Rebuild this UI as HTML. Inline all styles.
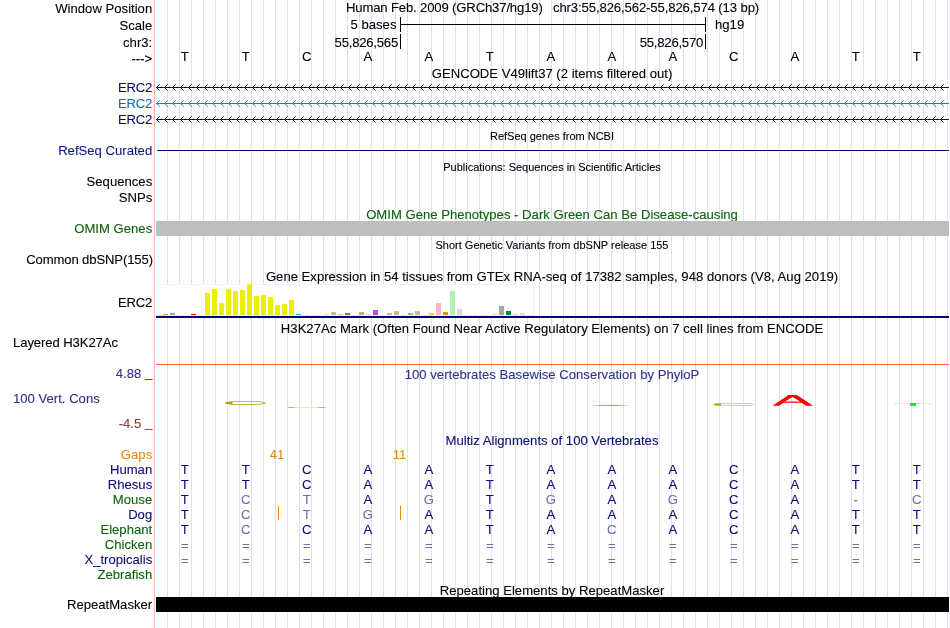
<!DOCTYPE html><html><head><meta charset="utf-8"><style>
html,body{margin:0;padding:0;background:#fff;overflow:hidden}
svg{display:block;will-change:transform}
text{font-family:'Liberation Sans',sans-serif;font-size:13.13px;fill:#000;stroke:#000;stroke-width:0.1px}
.s{font-size:11px}
.r{text-anchor:end}
.c{text-anchor:middle}
</style></head><body>
<svg width="950" height="628" viewBox="0 0 950 628">
<defs>
<pattern id="guides" x="167" y="0" width="12" height="628" patternUnits="userSpaceOnUse"><rect x="0" y="0" width="1" height="628" fill="#ddddff"/></pattern>
</defs>
<rect width="950" height="628" fill="#fff"/>
<rect x="167" y="0" width="783" height="628" fill="url(#guides)" shape-rendering="crispEdges"/>
<rect x="154" y="0" width="1" height="628" fill="#ffb3b3" shape-rendering="crispEdges"/>

<text class="r" style="fill:#000;stroke:#000" transform="matrix(1 0 0 1.03 152.2 13)">Window Position</text>
<text class="r" style="fill:#000;stroke:#000" transform="matrix(1 0 0 1.03 152.2 30)">Scale</text>
<text class="r" style="fill:#000;stroke:#000" transform="matrix(1 0 0 1.03 152.2 47)">chr3:</text>
<text class="r" style="fill:#000;stroke:#000" transform="matrix(1 0 0 1.03 152.2 63)">---&gt;</text>
<text class="r" textLength="34.2" lengthAdjust="spacing" style="fill:#0c0c78;stroke:#0c0c78" transform="matrix(1 0 0 1.03 152.2 92)">ERC2</text>
<text class="r" textLength="34.2" lengthAdjust="spacing" style="fill:#1470b8;stroke:#1470b8" transform="matrix(1 0 0 1.03 152.2 108)">ERC2</text>
<text class="r" textLength="34.2" lengthAdjust="spacing" style="fill:#0c0c78;stroke:#0c0c78" transform="matrix(1 0 0 1.03 152.2 124)">ERC2</text>
<text class="r" style="fill:#14148c;stroke:#14148c" transform="matrix(1 0 0 1.03 152.2 155)">RefSeq Curated</text>
<text class="r" style="fill:#000;stroke:#000" transform="matrix(1 0 0 1.03 152.2 186)">Sequences</text>
<text class="r" style="fill:#000;stroke:#000" transform="matrix(1 0 0 1.03 152.2 201.5)">SNPs</text>
<text class="r" style="fill:#0a640a;stroke:#0a640a" transform="matrix(1 0 0 1.03 152.2 233)">OMIM Genes</text>
<text class="r" textLength="126.8" lengthAdjust="spacing" style="fill:#000;stroke:#000" transform="matrix(1 0 0 1.03 153 264)">Common dbSNP(155)</text>
<text class="r" textLength="34.2" lengthAdjust="spacing" style="fill:#000;stroke:#000" transform="matrix(1 0 0 1.03 152.2 307)">ERC2</text>
<text class="" textLength="105" lengthAdjust="spacing" style="fill:#000;stroke:#000" transform="matrix(1 0 0 1.03 13 347)">Layered H3K27Ac</text>
<text class="r" style="fill:#32328c;stroke:#32328c" transform="matrix(1 0 0 1.03 152.2 378)">4.88 <tspan dy="-1">_</tspan></text>
<text class="" style="fill:#32328c;stroke:#32328c" transform="matrix(1 0 0 1.03 13 403)">100 Vert. Cons</text>
<text class="r" style="fill:#8c3c3c;stroke:#8c3c3c" transform="matrix(1 0 0 1.03 152.2 428)">-4.5 <tspan dy="-1">_</tspan></text>
<text class="r" style="fill:#e68a14;stroke:#e68a14" transform="matrix(1 0 0 1.03 152.2 459)">Gaps</text>
<text class="r" style="fill:#0c0c78;stroke:#0c0c78" transform="matrix(1 0 0 1.03 152.2 474)">Human</text>
<text class="r" style="fill:#0c0c78;stroke:#0c0c78" transform="matrix(1 0 0 1.03 152.2 489)">Rhesus</text>
<text class="r" style="fill:#0a640a;stroke:#0a640a" transform="matrix(1 0 0 1.03 152.2 504)">Mouse</text>
<text class="r" style="fill:#0c0c78;stroke:#0c0c78" transform="matrix(1 0 0 1.03 152.2 519)">Dog</text>
<text class="r" style="fill:#0a640a;stroke:#0a640a" transform="matrix(1 0 0 1.03 152.2 534)">Elephant</text>
<text class="r" style="fill:#0a640a;stroke:#0a640a" transform="matrix(1 0 0 1.03 152.2 549)">Chicken</text>
<text class="r" style="fill:#0c0c78;stroke:#0c0c78" transform="matrix(1 0 0 1.03 152.2 564)">X_tropicalis</text>
<text class="r" style="fill:#0a640a;stroke:#0a640a" transform="matrix(1 0 0 1.03 152.2 579)">Zebrafish</text>
<text class="r" style="fill:#000;stroke:#000" transform="matrix(1 0 0 1.03 152.2 609)">RepeatMasker</text>
<text textLength="196.8" lengthAdjust="spacing" transform="matrix(1 0 0 1 346 12)">Human Feb. 2009 (GRCh37/hg19)</text>
<text class="r" textLength="206.2" lengthAdjust="spacing" transform="matrix(1 0 0 1 759.2 12)">chr3:55,826,562-55,826,574 (13 bp)</text>
<text class="r" transform="matrix(1 0 0 1 396.5 28.5)">5 bases</text>
<text transform="matrix(1 0 0 1 715 28.5)">hg19</text>
<text class="r" textLength="63.6" lengthAdjust="spacing" transform="matrix(1 0 0 1 398.2 46.5)">55,826,565</text>
<text class="r" textLength="63.6" lengthAdjust="spacing" transform="matrix(1 0 0 1 703.3 46.5)">55,826,570</text>
<g fill="#000" shape-rendering="crispEdges"><rect x="400" y="17" width="1" height="15"/><rect x="705" y="17" width="1" height="15"/><rect x="400" y="24" width="305" height="1"/><rect x="400" y="34" width="1" height="15"/><rect x="705" y="34" width="1" height="15"/></g>
<text class="c" transform="matrix(1 0 0 1.03 184.8 61)">T</text>
<text class="c" transform="matrix(1 0 0 1.03 245.8 61)">T</text>
<text class="c" transform="matrix(1 0 0 1.03 306.8 61)">C</text>
<text class="c" transform="matrix(1 0 0 1.03 367.8 61)">A</text>
<text class="c" transform="matrix(1 0 0 1.03 428.8 61)">A</text>
<text class="c" transform="matrix(1 0 0 1.03 489.8 61)">T</text>
<text class="c" transform="matrix(1 0 0 1.03 550.8 61)">A</text>
<text class="c" transform="matrix(1 0 0 1.03 611.8 61)">A</text>
<text class="c" transform="matrix(1 0 0 1.03 672.8 61)">A</text>
<text class="c" transform="matrix(1 0 0 1.03 733.8 61)">C</text>
<text class="c" transform="matrix(1 0 0 1.03 794.8 61)">A</text>
<text class="c" transform="matrix(1 0 0 1.03 855.8 61)">T</text>
<text class="c" transform="matrix(1 0 0 1.03 916.8 61)">T</text>
<text class="c" style="fill:#000;stroke:#000" transform="matrix(1 0 0 1.03 552 78)">GENCODE V49lift37 (2 items filtered out)</text>
<text class="c" style="fill:#000;stroke:#000;font-size:11px" transform="matrix(1 0 0 1.03 552 140)">RefSeq genes from NCBI</text>
<text class="c" style="fill:#000;stroke:#000;font-size:11px" transform="matrix(1 0 0 1.03 552 171)">Publications: Sequences in Scientific Articles</text>
<text class="c" style="fill:#0a640a;stroke:#0a640a" transform="matrix(1 0 0 1.03 552 219)">OMIM Gene Phenotypes - Dark Green Can Be Disease-causing</text>
<text class="c" style="fill:#000;stroke:#000;font-size:11px" transform="matrix(1 0 0 1.03 552 249)">Short Genetic Variants from dbSNP release 155</text>
<text class="c" style="fill:#000;stroke:#000" transform="matrix(1 0 0 1.03 552 281)">Gene Expression in 54 tissues from GTEx RNA-seq of 17382 samples, 948 donors (V8, Aug 2019)</text>
<text class="c" style="fill:#000;stroke:#000" transform="matrix(1 0 0 1.03 552 333)">H3K27Ac Mark (Often Found Near Active Regulatory Elements) on 7 cell lines from ENCODE</text>
<text class="c" style="fill:#32328c;stroke:#32328c" transform="matrix(1 0 0 1.03 552 379)">100 vertebrates Basewise Conservation by PhyloP</text>
<text class="c" style="fill:#0c0c78;stroke:#0c0c78" transform="matrix(1 0 0 1.03 552 445)">Multiz Alignments of 100 Vertebrates</text>
<text class="c" style="fill:#000;stroke:#000" transform="matrix(1 0 0 1.03 552 595)">Repeating Elements by RepeatMasker</text>
<pattern id="arr87" x="157" y="84" width="8" height="7" patternUnits="userSpaceOnUse"><g fill="#0c0c78"><rect x="0" y="2" width="1" height="3"/><rect x="1" y="1" width="1" height="1"/><rect x="1" y="5" width="1" height="1"/><rect x="2" y="0" width="1" height="1" opacity="0.6"/><rect x="2" y="6" width="1" height="1" opacity="0.6"/></g></pattern>
<rect x="156" y="86" width="793" height="3" fill="#fff" shape-rendering="crispEdges"/>
<rect x="156" y="87" width="793" height="1" fill="#0c0c78" shape-rendering="crispEdges"/>
<rect x="157" y="84" width="791" height="7" fill="url(#arr87)" shape-rendering="crispEdges"/>
<pattern id="arr103" x="157" y="100" width="8" height="7" patternUnits="userSpaceOnUse"><g fill="#1482c8"><rect x="0" y="2" width="1" height="3"/><rect x="1" y="1" width="1" height="1"/><rect x="1" y="5" width="1" height="1"/><rect x="2" y="0" width="1" height="1" opacity="0.6"/><rect x="2" y="6" width="1" height="1" opacity="0.6"/></g></pattern>
<rect x="156" y="102" width="793" height="3" fill="#fff" shape-rendering="crispEdges"/>
<rect x="156" y="103" width="793" height="1" fill="#1482c8" shape-rendering="crispEdges"/>
<rect x="157" y="100" width="791" height="7" fill="url(#arr103)" shape-rendering="crispEdges"/>
<pattern id="arr119" x="157" y="116" width="8" height="7" patternUnits="userSpaceOnUse"><g fill="#0c0c78"><rect x="0" y="2" width="1" height="3"/><rect x="1" y="1" width="1" height="1"/><rect x="1" y="5" width="1" height="1"/><rect x="2" y="0" width="1" height="1" opacity="0.6"/><rect x="2" y="6" width="1" height="1" opacity="0.6"/></g></pattern>
<rect x="156" y="118" width="793" height="3" fill="#fff" shape-rendering="crispEdges"/>
<rect x="156" y="119" width="793" height="1" fill="#0c0c78" shape-rendering="crispEdges"/>
<rect x="157" y="116" width="791" height="7" fill="url(#arr119)" shape-rendering="crispEdges"/>
<rect x="157" y="149" width="792" height="3" fill="#fff" shape-rendering="crispEdges"/>
<rect x="157" y="150" width="792" height="1" fill="#0c0c78" shape-rendering="crispEdges"/>
<rect x="156" y="221" width="793" height="15" fill="#bebebe" shape-rendering="crispEdges"/>
<rect x="156" y="284" width="378" height="32" fill="#fff" stroke="none" shape-rendering="crispEdges"/>
<rect x="156" y="284" width="378" height="1" fill="#f2f2f2" shape-rendering="crispEdges"/><rect x="533" y="284" width="1" height="32" fill="#f2f2f2" shape-rendering="crispEdges"/><rect x="156" y="315" width="378" height="1" fill="#ebebeb" shape-rendering="crispEdges"/>
<g shape-rendering="crispEdges">
<rect x="163" y="314" width="5" height="1" fill="#EE9A00"/>
<rect x="170" y="313" width="5" height="2" fill="#8FBC8F"/>
<rect x="191" y="314" width="5" height="1" fill="#FF0000"/>
<rect x="205" y="293" width="5" height="22" fill="#EEEE00"/>
<rect x="212" y="289" width="5" height="26" fill="#EEEE00"/>
<rect x="219" y="303" width="5" height="12" fill="#EEEE00"/>
<rect x="226" y="289" width="5" height="26" fill="#EEEE00"/>
<rect x="233" y="291" width="5" height="24" fill="#EEEE00"/>
<rect x="240" y="290" width="5" height="25" fill="#EEEE00"/>
<rect x="247" y="284" width="5" height="31" fill="#EEEE00"/>
<rect x="254" y="296" width="5" height="19" fill="#EEEE00"/>
<rect x="261" y="295" width="5" height="20" fill="#EEEE00"/>
<rect x="268" y="297" width="5" height="18" fill="#EEEE00"/>
<rect x="275" y="305" width="5" height="10" fill="#EEEE00"/>
<rect x="282" y="304" width="5" height="11" fill="#EEEE00"/>
<rect x="289" y="300" width="5" height="15" fill="#EEEE00"/>
<rect x="296" y="314" width="5" height="1" fill="#00CDCD"/>
<rect x="324" y="314" width="5" height="1" fill="#EED5D2"/>
<rect x="331" y="312" width="5" height="3" fill="#CDB79E"/>
<rect x="338" y="314" width="5" height="1" fill="#EEC591"/>
<rect x="345" y="313" width="5" height="2" fill="#8B7355"/>
<rect x="359" y="312" width="5" height="3" fill="#CDAA7D"/>
<rect x="366" y="314" width="5" height="1" fill="#EED5D2"/>
<rect x="373" y="310" width="5" height="5" fill="#B452CD"/>
<rect x="387" y="313" width="5" height="2" fill="#CDB79E"/>
<rect x="394" y="311" width="5" height="4" fill="#CDB79E"/>
<rect x="408" y="313" width="5" height="2" fill="#9ACD32"/>
<rect x="415" y="311" width="5" height="4" fill="#CDB79E"/>
<rect x="429" y="313" width="5" height="2" fill="#FFD700"/>
<rect x="436" y="303" width="5" height="12" fill="#FFB6C1"/>
<rect x="443" y="312" width="5" height="3" fill="#CD9B1D"/>
<rect x="450" y="291" width="5" height="24" fill="#B4EEB4"/>
<rect x="457" y="309" width="5" height="6" fill="#D9D9D9"/>
<rect x="492" y="314" width="5" height="1" fill="#FFD39B"/>
<rect x="499" y="306" width="5" height="9" fill="#A6A6A6"/>
<rect x="506" y="311" width="5" height="4" fill="#008B45"/>
<rect x="513" y="314" width="5" height="1" fill="#EED5D2"/>
<rect x="520" y="313" width="5" height="2" fill="#EED5D2"/>
</g>
<rect x="156" y="316" width="793" height="2" fill="#000080" shape-rendering="crispEdges"/>
<rect x="156" y="364" width="793" height="1" fill="#ff6347" shape-rendering="crispEdges"/>
<path d="M225.5,403 L232,401.5 L259,401.5 L265.8,403 L259,404.5 L232,404.5 Z" fill="none" stroke="#c0c040" stroke-width="1"/>
<path d="M224.8,403 L227,402 L232.5,401.8 L232.5,404.2 L227,404 Z" fill="#a8a800"/>
<path d="M287,407.5 L326,407.5" stroke="#e6e6b8" stroke-width="1"/>
<path d="M286.5,407.5 Q291,406.4 296,407.5 Q291,408.6 286.5,407.5 Z M317,407.5 Q321.5,406.5 326.5,407.5 Q321.5,408.5 317,407.5 Z" fill="#b8b840"/>
<path d="M589,405.5 Q609.5,404.3 630.5,405.5 Q609.5,406.7 589,405.5 Z" fill="#ff7070"/>
<path d="M713.5,404.5 L720,403.5 L751,403.5 L753.5,404.5 L751,405.5 L720,405.5 Z" fill="none" stroke="#d8d890" stroke-width="1"/>
<path d="M712.8,404.5 L716,403.6 L721,403.5 L721,405.5 L716,405.4 Z" fill="#a8a800"/>
<path fill-rule="evenodd" fill="#ff0000" d="M772.5,405.8 L788.5,395 L797,395 L813,405.8 L806,405.8 L801.5,402.8 L783.5,402.8 L779,405.8 Z M792.6,397 L785,401.5 L800.2,401.5 Z"/>
<path d="M894,403.5 L932,403.5" stroke="#c0ffc0" stroke-width="1"/>
<rect x="910" y="403" width="6" height="3" fill="#00ff00"/>
<text class="c" style="fill:#e68a14;stroke:#e68a14" transform="matrix(1 0 0 1.03 277 459)">41</text>
<text class="c" style="fill:#e68a14;stroke:#e68a14" transform="matrix(1 0 0 1.03 399.5 459)">11</text>
<rect x="278" y="506" width="1" height="14" fill="#e68a14" shape-rendering="crispEdges"/>
<rect x="400" y="506" width="1" height="14" fill="#e68a14" shape-rendering="crispEdges"/>
<text class="c" style="fill:#0c0c78;stroke:#0c0c78" transform="matrix(1 0 0 1.03 184.8 474)">T</text>
<text class="c" style="fill:#0c0c78;stroke:#0c0c78" transform="matrix(1 0 0 1.03 245.8 474)">T</text>
<text class="c" style="fill:#0c0c78;stroke:#0c0c78" transform="matrix(1 0 0 1.03 306.8 474)">C</text>
<text class="c" style="fill:#0c0c78;stroke:#0c0c78" transform="matrix(1 0 0 1.03 367.8 474)">A</text>
<text class="c" style="fill:#0c0c78;stroke:#0c0c78" transform="matrix(1 0 0 1.03 428.8 474)">A</text>
<text class="c" style="fill:#0c0c78;stroke:#0c0c78" transform="matrix(1 0 0 1.03 489.8 474)">T</text>
<text class="c" style="fill:#0c0c78;stroke:#0c0c78" transform="matrix(1 0 0 1.03 550.8 474)">A</text>
<text class="c" style="fill:#0c0c78;stroke:#0c0c78" transform="matrix(1 0 0 1.03 611.8 474)">A</text>
<text class="c" style="fill:#0c0c78;stroke:#0c0c78" transform="matrix(1 0 0 1.03 672.8 474)">A</text>
<text class="c" style="fill:#0c0c78;stroke:#0c0c78" transform="matrix(1 0 0 1.03 733.8 474)">C</text>
<text class="c" style="fill:#0c0c78;stroke:#0c0c78" transform="matrix(1 0 0 1.03 794.8 474)">A</text>
<text class="c" style="fill:#0c0c78;stroke:#0c0c78" transform="matrix(1 0 0 1.03 855.8 474)">T</text>
<text class="c" style="fill:#0c0c78;stroke:#0c0c78" transform="matrix(1 0 0 1.03 916.8 474)">T</text>
<text class="c" style="fill:#0c0c78;stroke:#0c0c78" transform="matrix(1 0 0 1.03 184.8 489)">T</text>
<text class="c" style="fill:#0c0c78;stroke:#0c0c78" transform="matrix(1 0 0 1.03 245.8 489)">T</text>
<text class="c" style="fill:#0c0c78;stroke:#0c0c78" transform="matrix(1 0 0 1.03 306.8 489)">C</text>
<text class="c" style="fill:#0c0c78;stroke:#0c0c78" transform="matrix(1 0 0 1.03 367.8 489)">A</text>
<text class="c" style="fill:#0c0c78;stroke:#0c0c78" transform="matrix(1 0 0 1.03 428.8 489)">A</text>
<text class="c" style="fill:#0c0c78;stroke:#0c0c78" transform="matrix(1 0 0 1.03 489.8 489)">T</text>
<text class="c" style="fill:#0c0c78;stroke:#0c0c78" transform="matrix(1 0 0 1.03 550.8 489)">A</text>
<text class="c" style="fill:#0c0c78;stroke:#0c0c78" transform="matrix(1 0 0 1.03 611.8 489)">A</text>
<text class="c" style="fill:#0c0c78;stroke:#0c0c78" transform="matrix(1 0 0 1.03 672.8 489)">A</text>
<text class="c" style="fill:#0c0c78;stroke:#0c0c78" transform="matrix(1 0 0 1.03 733.8 489)">C</text>
<text class="c" style="fill:#0c0c78;stroke:#0c0c78" transform="matrix(1 0 0 1.03 794.8 489)">A</text>
<text class="c" style="fill:#0c0c78;stroke:#0c0c78" transform="matrix(1 0 0 1.03 855.8 489)">T</text>
<text class="c" style="fill:#0c0c78;stroke:#0c0c78" transform="matrix(1 0 0 1.03 916.8 489)">T</text>
<text class="c" style="fill:#0c0c78;stroke:#0c0c78" transform="matrix(1 0 0 1.03 184.8 504)">T</text>
<text class="c" style="fill:#7070a8;stroke:#7070a8" transform="matrix(1 0 0 1.03 245.8 504)">C</text>
<text class="c" style="fill:#7070a8;stroke:#7070a8" transform="matrix(1 0 0 1.03 306.8 504)">T</text>
<text class="c" style="fill:#0c0c78;stroke:#0c0c78" transform="matrix(1 0 0 1.03 367.8 504)">A</text>
<text class="c" style="fill:#7070a8;stroke:#7070a8" transform="matrix(1 0 0 1.03 428.8 504)">G</text>
<text class="c" style="fill:#0c0c78;stroke:#0c0c78" transform="matrix(1 0 0 1.03 489.8 504)">T</text>
<text class="c" style="fill:#7070a8;stroke:#7070a8" transform="matrix(1 0 0 1.03 550.8 504)">G</text>
<text class="c" style="fill:#0c0c78;stroke:#0c0c78" transform="matrix(1 0 0 1.03 611.8 504)">A</text>
<text class="c" style="fill:#7070a8;stroke:#7070a8" transform="matrix(1 0 0 1.03 672.8 504)">G</text>
<text class="c" style="fill:#0c0c78;stroke:#0c0c78" transform="matrix(1 0 0 1.03 733.8 504)">C</text>
<text class="c" style="fill:#0c0c78;stroke:#0c0c78" transform="matrix(1 0 0 1.03 794.8 504)">A</text>
<text class="c" style="fill:#7070a8;stroke:#7070a8" transform="matrix(1 0 0 1.03 855.8 504)">-</text>
<text class="c" style="fill:#7070a8;stroke:#7070a8" transform="matrix(1 0 0 1.03 916.8 504)">C</text>
<text class="c" style="fill:#0c0c78;stroke:#0c0c78" transform="matrix(1 0 0 1.03 184.8 519)">T</text>
<text class="c" style="fill:#7070a8;stroke:#7070a8" transform="matrix(1 0 0 1.03 245.8 519)">C</text>
<text class="c" style="fill:#7070a8;stroke:#7070a8" transform="matrix(1 0 0 1.03 306.8 519)">T</text>
<text class="c" style="fill:#7070a8;stroke:#7070a8" transform="matrix(1 0 0 1.03 367.8 519)">G</text>
<text class="c" style="fill:#0c0c78;stroke:#0c0c78" transform="matrix(1 0 0 1.03 428.8 519)">A</text>
<text class="c" style="fill:#0c0c78;stroke:#0c0c78" transform="matrix(1 0 0 1.03 489.8 519)">T</text>
<text class="c" style="fill:#0c0c78;stroke:#0c0c78" transform="matrix(1 0 0 1.03 550.8 519)">A</text>
<text class="c" style="fill:#0c0c78;stroke:#0c0c78" transform="matrix(1 0 0 1.03 611.8 519)">A</text>
<text class="c" style="fill:#0c0c78;stroke:#0c0c78" transform="matrix(1 0 0 1.03 672.8 519)">A</text>
<text class="c" style="fill:#0c0c78;stroke:#0c0c78" transform="matrix(1 0 0 1.03 733.8 519)">C</text>
<text class="c" style="fill:#0c0c78;stroke:#0c0c78" transform="matrix(1 0 0 1.03 794.8 519)">A</text>
<text class="c" style="fill:#0c0c78;stroke:#0c0c78" transform="matrix(1 0 0 1.03 855.8 519)">T</text>
<text class="c" style="fill:#0c0c78;stroke:#0c0c78" transform="matrix(1 0 0 1.03 916.8 519)">T</text>
<text class="c" style="fill:#0c0c78;stroke:#0c0c78" transform="matrix(1 0 0 1.03 184.8 534)">T</text>
<text class="c" style="fill:#7070a8;stroke:#7070a8" transform="matrix(1 0 0 1.03 245.8 534)">C</text>
<text class="c" style="fill:#0c0c78;stroke:#0c0c78" transform="matrix(1 0 0 1.03 306.8 534)">C</text>
<text class="c" style="fill:#0c0c78;stroke:#0c0c78" transform="matrix(1 0 0 1.03 367.8 534)">A</text>
<text class="c" style="fill:#0c0c78;stroke:#0c0c78" transform="matrix(1 0 0 1.03 428.8 534)">A</text>
<text class="c" style="fill:#0c0c78;stroke:#0c0c78" transform="matrix(1 0 0 1.03 489.8 534)">T</text>
<text class="c" style="fill:#0c0c78;stroke:#0c0c78" transform="matrix(1 0 0 1.03 550.8 534)">A</text>
<text class="c" style="fill:#7070a8;stroke:#7070a8" transform="matrix(1 0 0 1.03 611.8 534)">C</text>
<text class="c" style="fill:#0c0c78;stroke:#0c0c78" transform="matrix(1 0 0 1.03 672.8 534)">A</text>
<text class="c" style="fill:#0c0c78;stroke:#0c0c78" transform="matrix(1 0 0 1.03 733.8 534)">C</text>
<text class="c" style="fill:#0c0c78;stroke:#0c0c78" transform="matrix(1 0 0 1.03 794.8 534)">A</text>
<text class="c" style="fill:#0c0c78;stroke:#0c0c78" transform="matrix(1 0 0 1.03 855.8 534)">T</text>
<text class="c" style="fill:#0c0c78;stroke:#0c0c78" transform="matrix(1 0 0 1.03 916.8 534)">T</text>
<text class="c" style="fill:#7070a8;stroke:#7070a8" transform="matrix(1 0 0 1.03 184.8 550)">=</text>
<text class="c" style="fill:#7070a8;stroke:#7070a8" transform="matrix(1 0 0 1.03 245.8 550)">=</text>
<text class="c" style="fill:#7070a8;stroke:#7070a8" transform="matrix(1 0 0 1.03 306.8 550)">=</text>
<text class="c" style="fill:#7070a8;stroke:#7070a8" transform="matrix(1 0 0 1.03 367.8 550)">=</text>
<text class="c" style="fill:#7070a8;stroke:#7070a8" transform="matrix(1 0 0 1.03 428.8 550)">=</text>
<text class="c" style="fill:#7070a8;stroke:#7070a8" transform="matrix(1 0 0 1.03 489.8 550)">=</text>
<text class="c" style="fill:#7070a8;stroke:#7070a8" transform="matrix(1 0 0 1.03 550.8 550)">=</text>
<text class="c" style="fill:#7070a8;stroke:#7070a8" transform="matrix(1 0 0 1.03 611.8 550)">=</text>
<text class="c" style="fill:#7070a8;stroke:#7070a8" transform="matrix(1 0 0 1.03 672.8 550)">=</text>
<text class="c" style="fill:#7070a8;stroke:#7070a8" transform="matrix(1 0 0 1.03 733.8 550)">=</text>
<text class="c" style="fill:#7070a8;stroke:#7070a8" transform="matrix(1 0 0 1.03 794.8 550)">=</text>
<text class="c" style="fill:#7070a8;stroke:#7070a8" transform="matrix(1 0 0 1.03 855.8 550)">=</text>
<text class="c" style="fill:#7070a8;stroke:#7070a8" transform="matrix(1 0 0 1.03 916.8 550)">=</text>
<text class="c" style="fill:#7070a8;stroke:#7070a8" transform="matrix(1 0 0 1.03 184.8 565)">=</text>
<text class="c" style="fill:#7070a8;stroke:#7070a8" transform="matrix(1 0 0 1.03 245.8 565)">=</text>
<text class="c" style="fill:#7070a8;stroke:#7070a8" transform="matrix(1 0 0 1.03 306.8 565)">=</text>
<text class="c" style="fill:#7070a8;stroke:#7070a8" transform="matrix(1 0 0 1.03 367.8 565)">=</text>
<text class="c" style="fill:#7070a8;stroke:#7070a8" transform="matrix(1 0 0 1.03 428.8 565)">=</text>
<text class="c" style="fill:#7070a8;stroke:#7070a8" transform="matrix(1 0 0 1.03 489.8 565)">=</text>
<text class="c" style="fill:#7070a8;stroke:#7070a8" transform="matrix(1 0 0 1.03 550.8 565)">=</text>
<text class="c" style="fill:#7070a8;stroke:#7070a8" transform="matrix(1 0 0 1.03 611.8 565)">=</text>
<text class="c" style="fill:#7070a8;stroke:#7070a8" transform="matrix(1 0 0 1.03 672.8 565)">=</text>
<text class="c" style="fill:#7070a8;stroke:#7070a8" transform="matrix(1 0 0 1.03 733.8 565)">=</text>
<text class="c" style="fill:#7070a8;stroke:#7070a8" transform="matrix(1 0 0 1.03 794.8 565)">=</text>
<text class="c" style="fill:#7070a8;stroke:#7070a8" transform="matrix(1 0 0 1.03 855.8 565)">=</text>
<text class="c" style="fill:#7070a8;stroke:#7070a8" transform="matrix(1 0 0 1.03 916.8 565)">=</text>
<rect x="156" y="597" width="793" height="15" fill="#000" shape-rendering="crispEdges"/>
</svg></body></html>
